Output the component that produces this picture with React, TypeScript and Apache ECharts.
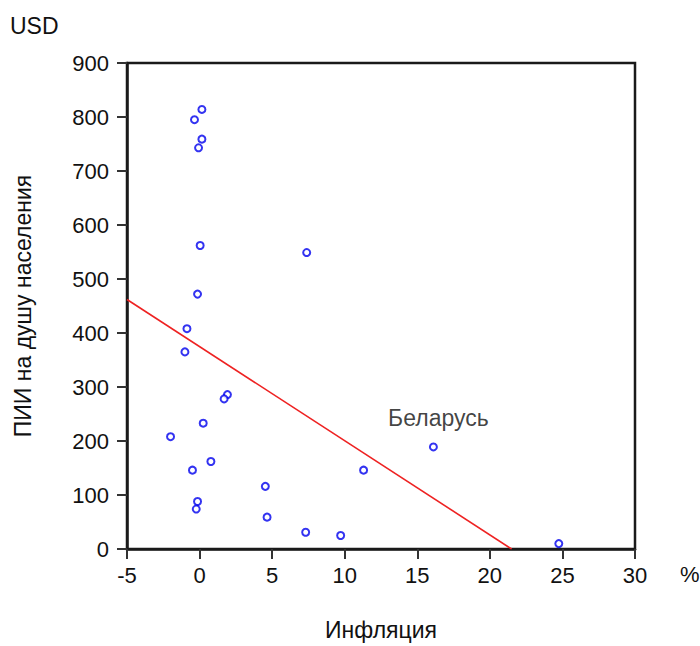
import React, { useEffect, useRef } from "react";
import * as echarts from "echarts";

const inflation = [0.16, -0.35, 0.16, -0.07, 0.04, 7.38, -0.14, -0.87, -1.01, 1.92, 1.69, 0.25, -2.0, 0.78, -0.49, 4.53, -0.14, -0.23, 4.65, 7.31, 9.72, 11.3, 16.11, 24.75];
const fdiPerCapita = [814, 795, 759, 743, 562, 549, 472, 408, 365, 286, 278, 233, 208, 162, 146, 116, 88, 74, 59, 31, 25, 146, 189, 10];
const labelledIndex = 22;
const labelledName = "Беларусь";
const trendX = [-5, 21.5];
const trendY = [462, 0];

const FONT = "'Liberation Sans', Arial, sans-serif";

export default function App() {
  const ref = useRef<HTMLDivElement>(null);
  useEffect(() => {
    document.body.style.margin = "0";
    const chart = echarts.init(ref.current!, null, { renderer: "svg" });
    const points = inflation.map((x, i) => {
      const item: any = { value: [x, fdiPerCapita[i]] };
      if (i === labelledIndex) {
        item.label = {
          show: true,
          formatter: labelledName,
          position: "top",
          distance: 13,
          offset: [5, 0],
          color: "#111",
          fontSize: 23,
          fontFamily: FONT,
        };
      }
      return item;
    });
    chart.setOption({
      animation: false,
      textStyle: { fontFamily: FONT },
      grid: {
        left: 127,
        right: 65,
        top: 63,
        bottom: 92,
        show: true,
        borderColor: "#1a1a1a",
        borderWidth: 2.5,
        backgroundColor: "transparent",
      },
      xAxis: {
        type: "value",
        min: -5,
        max: 30,
        interval: 5,
        name: "Инфляция",
        nameLocation: "middle",
        nameGap: 69,
        nameTextStyle: { color: "#111", fontSize: 23, fontFamily: FONT },
        axisLine: { show: true, onZero: false, lineStyle: { color: "#1a1a1a", width: 2.5 } },
        axisTick: { show: true, length: 10, lineStyle: { color: "#333", width: 2 } },
        axisLabel: { color: "#111", fontSize: 22, margin: 15, fontFamily: FONT },
        splitLine: { show: false },
      },
      yAxis: {
        type: "value",
        min: 0,
        max: 900,
        interval: 100,
        name: "ПИИ на душу населения",
        nameLocation: "middle",
        nameGap: 93,
        nameTextStyle: { color: "#111", fontSize: 23, fontFamily: FONT },
        axisLine: { show: true, onZero: false, lineStyle: { color: "#1a1a1a", width: 2.5 } },
        axisTick: { show: true, length: 10, lineStyle: { color: "#333", width: 2 } },
        axisLabel: { color: "#111", fontSize: 22, margin: 18, fontFamily: FONT },
        splitLine: { show: false },
      },
      graphic: [
        {
          type: "text",
          left: 10,
          top: 14,
          style: { text: "USD", fill: "#111", fontSize: 23, fontFamily: FONT },
        },
        {
          type: "text",
          left: 680,
          top: 563,
          style: { text: "%", fill: "#111", fontSize: 22, fontFamily: FONT },
        },
      ],
      series: [
        {
          type: "line",
          data: trendX.map((x, i) => [x, trendY[i]]),
          showSymbol: false,
          lineStyle: { color: "#ee2222", width: 1.6 },
          z: 2,
        },
        {
          type: "scatter",
          data: points,
          symbol: "emptyCircle",
          symbolSize: 7,
          itemStyle: { color: "#0000ee", borderWidth: 2.2 },
          z: 3,
        },
      ],
    });
    return () => chart.dispose();
  }, []);
  return <div ref={ref} style={{ width: 700, height: 646 }} />;
}
